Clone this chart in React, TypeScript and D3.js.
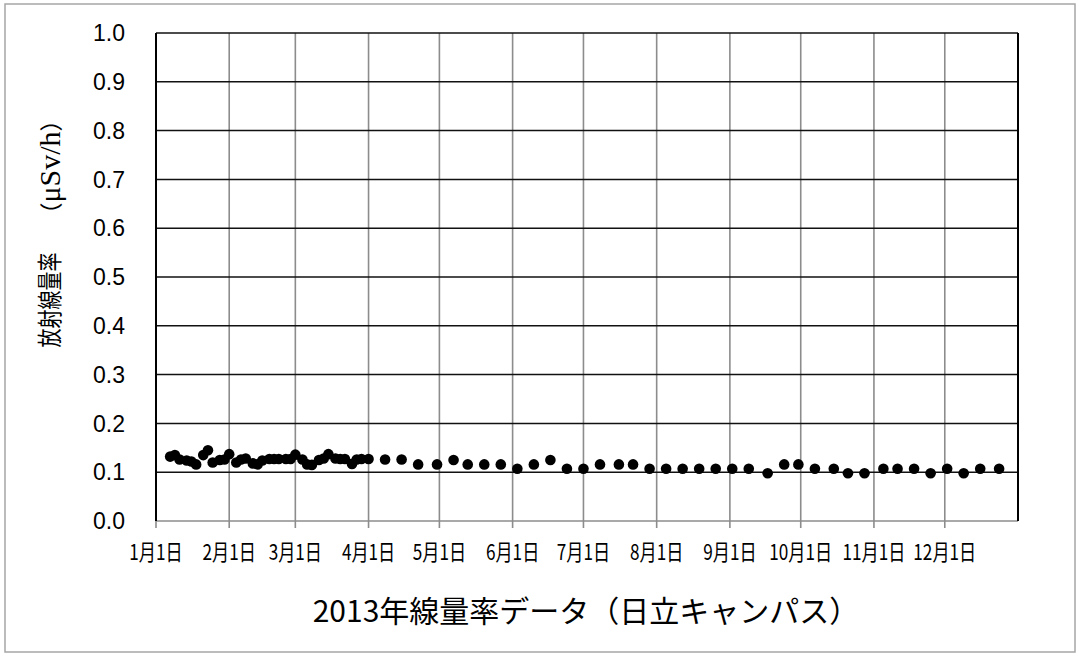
import React from "react";
import * as d3 from "d3";

const dates: string[] = [
  "2013-01-07", "2013-01-09", "2013-01-11", "2013-01-14", "2013-01-16", "2013-01-18",
  "2013-01-21", "2013-01-23", "2013-01-25", "2013-01-28", "2013-01-30", "2013-02-01",
  "2013-02-04", "2013-02-06", "2013-02-08", "2013-02-11", "2013-02-13", "2013-02-15",
  "2013-02-18", "2013-02-20", "2013-02-22", "2013-02-25", "2013-02-27", "2013-03-01",
  "2013-03-04", "2013-03-06", "2013-03-08", "2013-03-11", "2013-03-13", "2013-03-15",
  "2013-03-18", "2013-03-20", "2013-03-22", "2013-03-25", "2013-03-27", "2013-03-29",
  "2013-04-01", "2013-04-08", "2013-04-15", "2013-04-22", "2013-04-30", "2013-05-07",
  "2013-05-13", "2013-05-20", "2013-05-27", "2013-06-03", "2013-06-10", "2013-06-17",
  "2013-06-24", "2013-07-01", "2013-07-08", "2013-07-16", "2013-07-22", "2013-07-29",
  "2013-08-05", "2013-08-12", "2013-08-19", "2013-08-26", "2013-09-02", "2013-09-09",
  "2013-09-17", "2013-09-24", "2013-09-30", "2013-10-07", "2013-10-15", "2013-10-21",
  "2013-10-28", "2013-11-05", "2013-11-11", "2013-11-18", "2013-11-25", "2013-12-02",
  "2013-12-09", "2013-12-16", "2013-12-24",
];

const values: number[] = [
  0.132, 0.135, 0.126, 0.124, 0.122, 0.116,
  0.135, 0.145, 0.12, 0.125, 0.126, 0.137,
  0.12, 0.126, 0.128, 0.118, 0.116, 0.124,
  0.127, 0.127, 0.127, 0.127, 0.127, 0.136,
  0.126, 0.116, 0.115, 0.125, 0.128, 0.137,
  0.128, 0.127, 0.127, 0.117, 0.126, 0.127,
  0.127, 0.126, 0.126, 0.116, 0.116, 0.125,
  0.116, 0.116, 0.116, 0.107, 0.116, 0.125,
  0.107, 0.107, 0.116, 0.116, 0.116, 0.107,
  0.107, 0.107, 0.107, 0.107, 0.107, 0.107,
  0.098, 0.116, 0.116, 0.107, 0.107, 0.098,
  0.098, 0.107, 0.107, 0.107, 0.098, 0.107,
  0.098, 0.107, 0.107,
];

const monthLabels: string[] = [
  "1月1日", "2月1日", "3月1日", "4月1日", "5月1日", "6月1日",
  "7月1日", "8月1日", "9月1日", "10月1日", "11月1日", "12月1日",
];

const yTicks: number[] = [0, 0.1, 0.2, 0.3, 0.4, 0.5, 0.6, 0.7, 0.8, 0.9, 1.0];

const title = "2013年線量率データ（日立キャンパス）";
const yLabelJa = "放射線量率";
const yLabelUnit = "μSv/h";

const W = 1077;
const H = 654;
const plot = { left: 156, right: 1018, top: 33, bottom: 521 };

export default function App() {
  const parse = (s: string) => {
    const [y, m, d] = s.split("-").map(Number);
    return new Date(Date.UTC(y, m - 1, d));
  };
  const x = d3
    .scaleUtc()
    .domain([new Date(Date.UTC(2013, 0, 1)), new Date(Date.UTC(2014, 0, 1))])
    .range([plot.left, plot.right]);
  const y = d3.scaleLinear().domain([0, 1]).range([plot.bottom, plot.top]);
  const months = d3.utcMonths(new Date(Date.UTC(2013, 0, 1)), new Date(Date.UTC(2014, 0, 1)));

  const jaFont = "'Noto Sans CJK JP', 'Noto Sans', sans-serif";
  const serif = "'Liberation Serif', 'DejaVu Serif', serif";

  return (
    <svg
      width={W}
      height={H}
      viewBox={`0 0 ${W} ${H}`}
      style={{ position: "fixed", left: 0, top: 0, background: "#fff" }}
    >
      <rect x={0} y={0} width={W} height={H} fill="#fff" />
      <rect x={5} y={4} width={1070} height={648} fill="none" stroke="#a6a6a6" strokeWidth={1.5} />

      {/* vertical month grid lines (gray) */}
      {months.map((m, i) => (
        <line
          key={"v" + i}
          x1={x(m)}
          x2={x(m)}
          y1={plot.top}
          y2={plot.bottom + 7}
          stroke="#8c8c8c"
          strokeWidth={1.6}
        />
      ))}

      {/* horizontal grid lines */}
      {yTicks.map((t, i) =>
        t === 0 ? null : (
          <line
            key={"h" + i}
            x1={plot.left}
            x2={plot.right}
            y1={y(t)}
            y2={y(t)}
            stroke="#111"
            strokeWidth={1.5}
          />
        )
      )}
      {/* bottom axis */}
      <line x1={plot.left} x2={plot.right} y1={y(0)} y2={y(0)} stroke="#8c8c8c" strokeWidth={1.6} />
      {/* left axis */}
      <line x1={plot.left} x2={plot.left} y1={plot.top} y2={plot.bottom} stroke="#000" strokeWidth={2} />
      {/* right edge */}
      <line x1={plot.right} x2={plot.right} y1={plot.top} y2={plot.bottom} stroke="#000" strokeWidth={2} />

      {/* y tick labels */}
      {yTicks.map((t, i) => (
        <text
          key={"yl" + i}
          x={125}
          y={y(t)}
          dy="0.36em"
          textAnchor="end"
          fontFamily="'Liberation Sans', Arial, sans-serif"
          fontSize={23}
          fill="#000"
        >
          {t.toFixed(1)}
        </text>
      ))}

      {/* x tick labels */}
      {months.map((m, i) => (
        <text
          key={"xl" + i}
          transform={`translate(${x(m)},${560}) scale(0.78,1)`}
          textAnchor="middle"
          fontFamily={jaFont}
          fontSize={22}
          fill="#000"
        >
          {monthLabels[i]}
        </text>
      ))}

      {/* data points */}
      {dates.map((d, i) => (
        <circle key={"p" + i} cx={x(parse(d))} cy={y(values[i])} r={5.3} fill="#000" />
      ))}

      {/* y axis label */}
      <text
        transform={`translate(${59},${300}) rotate(-90) scale(0.76,1)`}
        textAnchor="middle"
        fontFamily={jaFont}
        fontSize={25}
        fill="#000"
      >
        {yLabelJa}
      </text>
      <text
        transform={`translate(${60},${167}) rotate(-90)`}
        textAnchor="middle"
        fontFamily={jaFont}
        fontSize={23}
        fill="#000"
      >
        （<tspan fontFamily={serif} fontSize={30}>{yLabelUnit}</tspan>）
      </text>

      {/* x axis title */}
      <text
        x={586}
        y={622}
        textAnchor="middle"
        fontFamily={jaFont}
        fontSize={30}
        fill="#000"
      >
        {title}
      </text>
    </svg>
  );
}
